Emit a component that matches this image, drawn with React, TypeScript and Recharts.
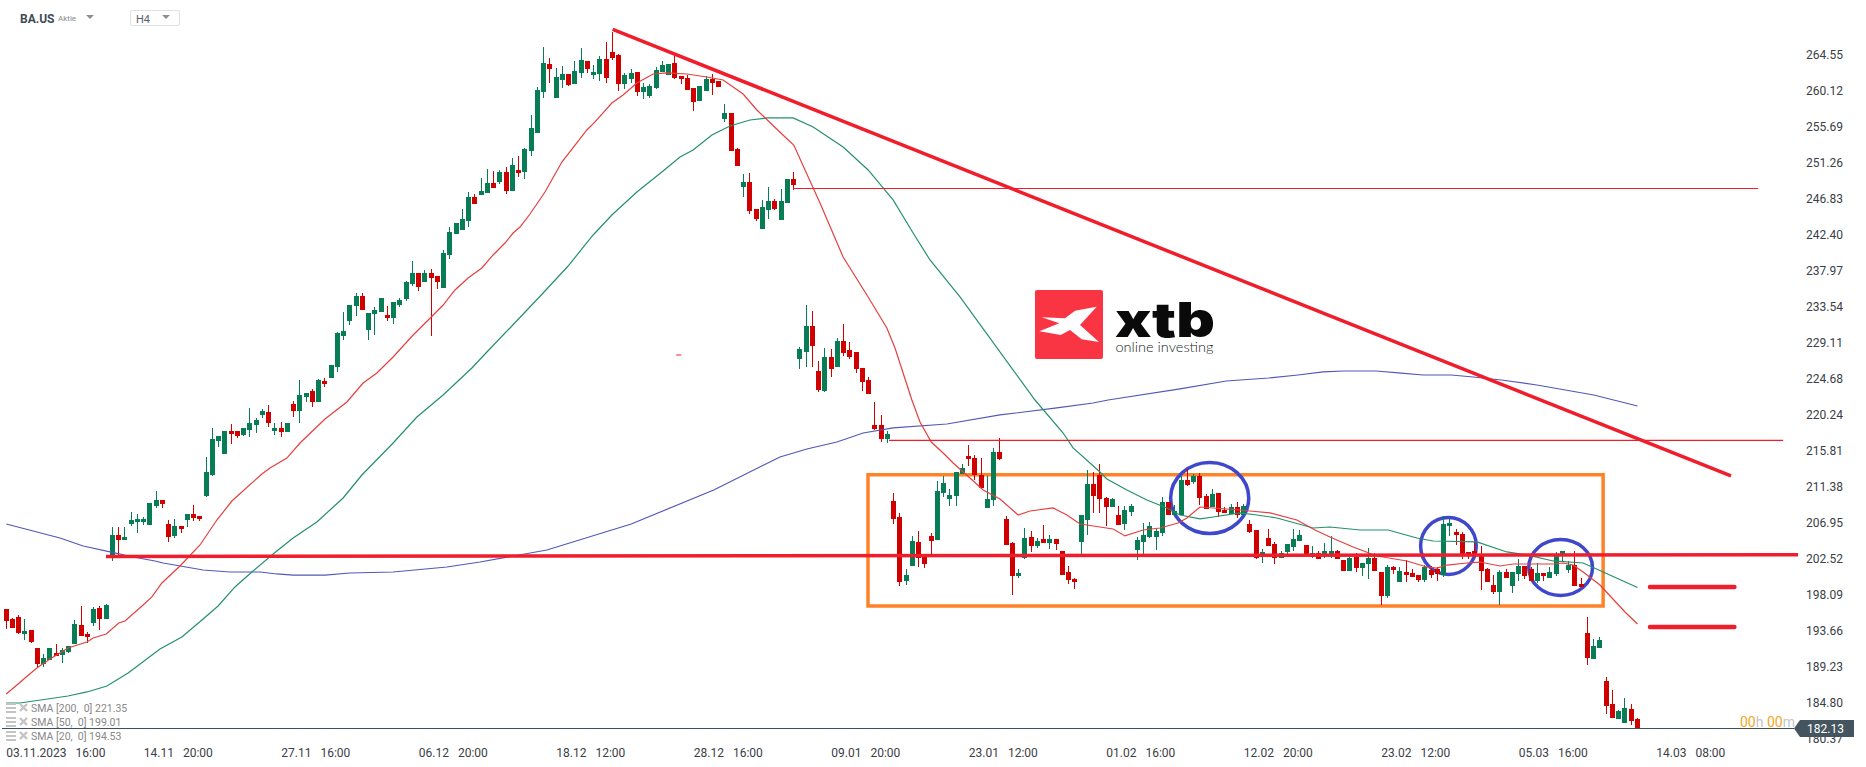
import React from "react";
import {
  Bar,
  ComposedChart,
  Line,
  ReferenceArea,
  ReferenceLine,
  XAxis,
  YAxis,
} from "recharts";

const WIDTH = 1866;
const HEIGHT = 767;
const RISING = "#067d55";
const FALLING = "#d00000";
const DRAWN_RED = "#f01d2d";
const BOX_ORANGE = "#ff8229";
const CIRCLE_BLUE = "#3f47cc";
const TEXT_DARK = "#3a4046";

const opens = [
  196.37, 195.14, 195.39, 193.29, 193.79, 191.57, 189.6, 190.09, 190.96, 190.71,
  191.08, 192.06, 194.4, 193.29, 194.65, 196.49, 195.14, 203.02, 205.48, 204.86,
  206.83, 207.08, 207.08, 206.71, 209.05, 209.79, 206.83, 205.36, 206.58, 207.32,
  208.06, 207.82, 210.28, 212.86, 217.05, 215.45, 218.28, 218.28, 217.78, 218.4,
  219.02, 220.25, 220.62, 218.28, 218.65, 218.15, 221.6, 220.74, 222.46, 223.2,
  221.85, 224.43, 224.8, 226.15, 229.97, 231.81, 233.66, 234.89, 230.71, 232.68,
  232.92, 232.55, 232.18, 233.78, 234.52, 236.37, 237.72, 236.61, 237.72, 237.35,
  235.88, 239.94, 242.52, 243.01, 244.12, 247.08, 247.32, 247.57, 248.8, 248.92,
  250.15, 247.81, 250.4, 250.15, 252.74, 254.95, 259.99, 263.44, 259.26, 261.47,
  262.21, 260.98, 262.34, 263.81, 262.09, 262.21, 264.06, 264.92, 264.55, 260.98,
  261.6, 262.46, 259.99, 259.51, 260.49, 262.46, 262.09, 263.57, 261.97, 261.72,
  260.49, 258.89, 260.12, 261.6, 261.35, 256.68, 257.41, 252.98, 248.31, 248.92,
  245.6, 243.14, 245.47, 246.58, 244.24, 246.34, 249.29, 227.14, 228.0, 231.2,
  225.66, 223.2, 227.38, 226.15, 229.35, 228.24, 228.0, 226.03, 224.55, 219.02,
  219.02, 217.29, 209.66, 207.69, 199.82, 201.66, 204.62, 203.14, 205.36, 204.86,
  210.65, 209.91, 210.28, 212.98, 215.2, 214.95, 212.86, 208.8, 209.79, 215.69,
  207.45, 204.49, 200.43, 202.65, 205.23, 204.12, 204.99, 204.49, 204.99, 203.51,
  200.92, 200.06, 204.62, 207.32, 211.75, 212.86, 210.03, 208.92, 207.94, 206.83,
  208.31, 203.63, 204.62, 205.23, 205.23, 205.72, 209.54, 207.94, 207.94, 212.25,
  212.0, 212.74, 210.28, 208.92, 210.65, 208.55, 208.06, 208.92, 207.94, 206.83,
  206.09, 203.02, 205.11, 204.37, 202.65, 203.39, 204.0, 204.74, 204.25, 203.02,
  203.26, 203.02, 203.02, 203.51, 202.4, 201.05, 202.77, 201.42, 201.91, 202.65,
  200.92, 197.97, 201.54, 199.69, 200.92, 200.8, 200.55, 199.94, 201.17, 201.29,
  200.55, 206.58, 205.85, 205.6, 203.39, 203.51, 203.02, 201.29, 199.32, 198.46,
  200.92, 199.2, 200.68, 201.66, 201.29, 199.82, 200.8, 200.19, 200.68, 202.89,
  201.17, 201.78, 199.45, 193.42, 190.22, 191.57, 187.51, 184.68, 182.83, 182.34,
  184.06, 182.83,
];

const highs = [
  196.37, 195.27, 195.63, 195.14, 193.79, 191.57, 190.83, 191.57, 192.06, 191.57,
  191.82, 195.02, 196.74, 193.54, 196.62, 196.74, 196.98, 206.46, 206.46, 206.46,
  208.31, 208.06, 207.69, 209.42, 210.89, 209.79, 207.32, 207.45, 206.58, 208.06,
  209.17, 207.82, 215.08, 218.65, 217.66, 218.28, 219.14, 218.28, 218.65, 221.11,
  219.88, 220.98, 221.48, 219.26, 219.39, 219.26, 221.97, 224.55, 222.95, 223.45,
  224.68, 224.8, 226.4, 230.46, 232.92, 233.78, 235.26, 235.26, 232.8, 233.54,
  234.64, 233.66, 234.15, 234.64, 236.74, 239.2, 237.72, 238.09, 238.21, 237.35,
  240.55, 243.38, 243.88, 245.6, 247.69, 247.44, 249.41, 250.52, 250.28, 250.4,
  250.77, 251.87, 252.12, 253.11, 257.17, 260.61, 265.54, 264.18, 262.95, 263.2,
  262.21, 263.81, 265.41, 263.81, 263.32, 264.43, 266.15, 267.38, 264.67, 262.34,
  262.83, 262.46, 261.11, 260.98, 263.07, 263.81, 263.44, 264.67, 261.97, 262.09,
  260.49, 260.74, 261.97, 262.21, 261.35, 258.52, 257.41, 253.11, 249.91, 250.03,
  245.6, 246.71, 248.31, 246.83, 248.06, 249.29, 250.15, 228.61, 233.78, 233.05,
  226.89, 228.49, 228.37, 229.72, 231.45, 229.23, 228.0, 226.03, 224.92, 221.85,
  220.25, 218.28, 210.65, 208.19, 201.29, 205.36, 205.97, 203.14, 205.72, 212.12,
  212.74, 211.14, 213.23, 214.22, 216.55, 215.32, 214.95, 212.74, 216.19, 217.42,
  207.82, 204.62, 201.29, 206.34, 205.97, 205.11, 206.71, 205.48, 204.99, 203.51,
  201.66, 200.19, 207.94, 213.48, 213.23, 214.22, 210.15, 210.03, 209.05, 209.05,
  209.29, 205.23, 206.95, 207.08, 206.22, 210.15, 209.54, 209.17, 212.74, 213.6,
  212.98, 213.11, 210.52, 211.14, 210.65, 208.92, 209.29, 209.54, 209.29, 207.32,
  206.09, 203.76, 206.22, 204.62, 203.51, 204.37, 206.22, 206.09, 204.25, 204.12,
  203.51, 204.49, 205.36, 203.63, 202.4, 203.14, 203.26, 202.03, 203.88, 203.26,
  200.92, 201.78, 201.66, 201.54, 202.4, 201.29, 200.55, 201.78, 201.66, 201.54,
  207.82, 207.57, 206.22, 205.85, 203.39, 204.74, 204.12, 201.41, 200.55, 201.17,
  201.29, 200.92, 202.52, 201.66, 201.54, 202.03, 200.8, 201.54, 203.39, 203.51,
  202.28, 203.51, 200.19, 195.39, 192.68, 192.92, 188.0, 186.4, 183.94, 185.42,
  184.68, 182.96,
];

const lows = [
  193.91, 194.03, 193.29, 192.56, 192.19, 189.23, 189.23, 190.09, 190.59, 189.72,
  190.95, 192.06, 193.05, 192.19, 194.28, 193.79, 195.14, 202.28, 203.02, 204.86,
  206.58, 205.72, 206.71, 206.71, 208.8, 208.8, 204.62, 205.11, 205.72, 206.46,
  207.2, 207.2, 210.15, 212.74, 216.31, 215.45, 216.68, 217.42, 217.66, 217.54,
  218.03, 219.88, 218.77, 217.78, 217.54, 218.15, 220.0, 219.26, 221.85, 221.23,
  221.85, 223.69, 224.8, 225.54, 229.48, 231.32, 232.43, 233.17, 229.48, 230.09,
  232.92, 231.81, 231.45, 233.54, 234.28, 236.12, 235.51, 236.61, 229.97, 235.75,
  235.88, 239.44, 242.52, 243.01, 243.38, 246.21, 247.32, 247.57, 248.18, 248.68,
  247.44, 247.81, 249.54, 249.29, 252.12, 254.95, 259.26, 261.11, 259.26, 260.49,
  260.74, 260.98, 261.72, 262.34, 261.6, 261.35, 261.11, 263.94, 260.12, 260.37,
  261.11, 259.51, 259.14, 259.26, 260.37, 262.46, 262.09, 261.6, 260.98, 260.24,
  257.66, 258.89, 260.12, 259.63, 260.61, 256.31, 252.74, 250.89, 247.08, 244.98,
  244.12, 243.14, 244.37, 245.47, 244.24, 246.34, 247.94, 225.91, 226.15, 226.15,
  223.08, 223.08, 224.92, 226.15, 227.51, 227.14, 225.41, 223.2, 222.83, 218.4,
  216.92, 216.8, 206.83, 199.2, 199.32, 201.66, 201.54, 201.41, 203.02, 204.86,
  210.15, 209.05, 209.05, 212.98, 213.97, 212.25, 211.26, 208.8, 209.05, 214.71,
  204.25, 198.09, 200.19, 202.52, 203.39, 203.88, 204.49, 203.76, 203.63, 200.55,
  199.45, 198.83, 203.14, 205.48, 208.19, 208.19, 206.58, 208.92, 206.71, 206.09,
  207.82, 202.4, 203.14, 205.11, 203.63, 205.36, 207.94, 207.94, 207.94, 211.51,
  211.75, 209.17, 208.68, 208.92, 207.69, 208.19, 208.06, 207.57, 207.94, 205.72,
  202.52, 202.03, 204.12, 201.91, 202.65, 203.14, 203.51, 204.74, 203.14, 202.65,
  202.52, 202.65, 202.65, 202.52, 201.05, 201.05, 200.92, 200.43, 200.06, 201.05,
  196.86, 197.72, 200.68, 199.69, 199.69, 200.31, 199.69, 199.69, 200.19, 199.82,
  200.31, 205.36, 204.25, 202.52, 202.52, 203.02, 198.71, 199.69, 198.22, 196.86,
  200.19, 198.34, 199.82, 200.06, 199.82, 199.57, 199.82, 200.19, 200.43, 202.15,
  200.8, 199.2, 199.08, 189.48, 190.22, 191.57, 183.45, 182.96, 182.83, 182.34,
  182.1, 181.73,
];

const closes = [
  194.89, 194.03, 193.42, 193.66, 192.31, 189.6, 190.34, 191.57, 190.59, 191.32,
  191.82, 194.52, 193.05, 192.92, 196.37, 195.14, 196.86, 205.48, 204.86, 205.23,
  207.32, 207.45, 207.45, 209.42, 209.79, 209.29, 205.23, 206.58, 206.22, 208.06,
  207.57, 207.45, 213.23, 217.29, 217.66, 218.28, 217.91, 217.66, 218.65, 219.26,
  219.63, 220.74, 219.26, 218.65, 218.15, 219.26, 220.74, 222.71, 222.95, 221.85,
  224.55, 224.06, 226.4, 230.34, 230.58, 233.78, 234.89, 233.17, 232.8, 233.17,
  234.64, 232.18, 234.15, 234.4, 236.61, 237.72, 236.0, 237.72, 237.11, 236.61,
  240.18, 242.77, 243.88, 244.37, 247.08, 246.21, 247.81, 248.8, 248.18, 250.15,
  247.81, 251.01, 250.03, 252.98, 255.57, 260.24, 263.57, 262.83, 261.84, 262.21,
  260.86, 262.58, 263.94, 262.83, 262.46, 264.06, 261.72, 264.18, 260.98, 262.09,
  262.34, 259.99, 260.61, 260.74, 262.71, 263.32, 263.44, 261.72, 261.6, 260.24,
  258.77, 260.74, 261.6, 261.11, 260.61, 257.41, 252.74, 250.89, 248.92, 245.35,
  244.37, 245.84, 246.58, 245.6, 246.58, 249.29, 248.55, 228.37, 231.2, 228.74,
  223.32, 227.38, 225.91, 229.35, 227.88, 227.38, 225.91, 224.31, 222.83, 218.52,
  217.29, 217.91, 207.45, 199.69, 200.55, 204.74, 202.65, 201.91, 204.74, 210.89,
  211.88, 210.4, 213.23, 213.72, 214.83, 212.86, 211.26, 209.91, 215.69, 214.83,
  204.25, 200.43, 200.8, 205.11, 204.12, 204.74, 204.49, 204.99, 204.37, 200.55,
  199.94, 199.69, 207.94, 211.75, 210.28, 209.91, 208.92, 209.91, 206.71, 208.56,
  209.05, 204.86, 205.48, 206.58, 205.97, 209.54, 207.94, 208.43, 212.25, 211.63,
  212.74, 210.03, 208.68, 210.52, 208.31, 208.19, 208.92, 207.94, 209.05, 205.85,
  202.65, 203.39, 204.12, 202.65, 203.26, 204.37, 204.99, 205.48, 203.14, 203.26,
  202.52, 203.51, 203.51, 202.52, 201.05, 202.65, 201.42, 202.03, 202.65, 201.05,
  197.97, 201.54, 201.17, 201.05, 200.55, 200.31, 199.94, 201.54, 200.55, 200.68,
  206.83, 206.95, 205.48, 203.14, 202.89, 203.02, 201.05, 199.69, 198.46, 200.92,
  200.19, 200.92, 201.66, 200.43, 199.82, 200.8, 200.43, 200.92, 203.02, 203.51,
  201.78, 199.2, 199.08, 190.34, 191.82, 192.56, 184.43, 182.96, 183.82, 184.18,
  182.59, 181.73,
];

const sma20 = [
  [0, 185.91], [1.9, 187.14], [3, 187.88], [4.9, 189.11], [7, 190.22], [9.9, 191.57],
  [12.9, 192.31], [13.9, 192.8], [16, 193.29], [18, 194.65], [19, 194.89], [21.9, 196.86],
  [23.3, 197.85], [24.9, 199.57], [27.8, 201.66], [31, 204.25], [33.7, 207.32], [36.1, 209.66],
  [40.9, 212.99], [42.2, 213.72], [44.9, 214.95], [47, 216.8], [51, 219.75], [54.5, 221.85],
  [57.1, 224.18], [59.3, 225.41], [61.9, 227.38], [65.1, 230.09], [68, 232.31], [69.9, 233.78],
  [71.8, 235.63], [73.9, 237.11], [76.1, 238.34], [77.9, 239.94], [79.8, 241.41], [81.1, 242.64],
  [82.2, 243.38], [83.8, 244.98], [86.2, 247.69], [88.9, 251.38], [92.9, 255.32], [94.2, 256.31],
  [96.9, 258.64], [98.7, 259.63], [100.9, 261.11], [103.5, 262.21], [105.7, 262.34], [108.9, 262.21],
  [112.1, 261.84], [114.7, 261.47], [117.9, 259.75], [120.1, 257.78], [124.1, 254.83], [126, 253.47],
  [130.2, 246.34], [133.9, 239.69], [136.9, 236.0], [137.9, 234.77], [140.9, 230.95], [142.2, 228.49],
  [144.9, 222.09], [146.2, 219.39], [148, 216.92], [149.9, 215.57], [151.5, 214.34], [154.2, 212.49],
  [156.3, 211.02], [159, 209.91], [161.9, 207.94], [163.8, 208.43], [167.5, 208.8], [169.7, 207.94],
  [171.8, 206.83], [177.1, 206.22], [179, 205.36], [181.9, 206.09], [184.6, 206.34], [187.5, 206.95],
  [188.9, 207.57], [191, 208.92], [193.1, 208.8], [197.4, 208.55], [199, 208.43], [202.2, 208.19],
  [206.5, 207.32], [209.4, 206.09], [211.8, 205.23], [215.5, 204.0], [219.3, 202.89], [224.1, 202.28],
  [227.3, 201.54], [228.9, 201.41], [230.5, 201.78], [233.7, 202.03], [235.8, 202.15], [239, 201.66],
  [241.1, 201.91], [247.5, 201.91], [249.1, 202.03], [250.7, 201.78], [252.3, 200.92], [255, 199.32],
  [259, 196.0], [261, 194.53],
];

const sma50 = [
  [0, 184.8], [2.2, 184.8], [9.9, 185.66], [12.9, 186.16], [16.1, 186.89], [19.5, 188.49],
  [24.6, 191.45], [28.1, 192.92], [31.5, 195.14], [33.9, 196.74], [36.6, 199.08], [39.3, 200.92],
  [42.7, 203.14], [45.9, 205.11], [49.7, 207.08], [53.9, 210.03], [56.9, 212.86], [61.9, 216.8],
  [65.7, 220.0], [69.9, 222.71], [74.5, 226.03], [76.9, 228.0], [80.9, 231.2], [85.9, 235.26],
  [89.9, 238.58], [93.9, 242.4], [96.9, 244.86], [100.9, 247.69], [104.9, 250.15], [107.8, 252.0],
  [109.9, 252.86], [112.9, 254.71], [115.8, 255.81], [119, 256.55], [121.7, 256.8], [125.9, 256.8],
  [129.1, 255.69], [133.9, 253.23], [137.9, 250.4], [141.9, 246.71], [145.1, 242.64], [147.8, 239.32],
  [152.6, 234.77], [164.6, 222.09], [169.1, 218.03], [170.7, 216.19], [175, 213.23], [176.1, 212.37],
  [179.3, 211.02], [182.5, 209.79], [185.7, 208.8], [187.8, 207.94], [191, 207.45], [193.1, 207.69],
  [197.4, 208.19], [200.1, 207.94], [203.3, 207.57], [209.1, 206.34], [211.8, 206.46], [216.6, 206.09],
  [221.1, 206.09], [225.7, 205.11], [228.3, 204.74], [235.3, 204.62], [240.1, 203.39], [243.3, 203.02],
  [247.5, 202.28], [252.3, 202.03], [255.5, 200.92], [261, 199.01],
];

const sma200 = [
  [0, 206.83], [4.3, 205.97], [8.6, 205.11], [12.3, 204.12], [16.6, 203.39], [20.3, 202.77],
  [23.8, 202.28], [25.1, 202.03], [31.5, 201.17], [35.8, 200.92], [40.6, 200.92], [43.3, 200.68],
  [45.9, 200.55], [51, 200.55], [55, 200.8], [61.9, 200.92], [70.5, 201.54], [75.8, 202.15],
  [86.5, 203.63], [100, 206.83], [113.2, 211.02], [123.8, 215.08], [128.1, 216.06], [132.9, 216.92],
  [137.1, 218.03], [141.9, 218.65], [150.5, 219.14], [159, 220.25], [168.1, 221.11], [173.9, 221.72],
  [176.3, 222.09], [187.8, 223.45], [195.2, 224.43], [202, 224.8], [206.7, 225.17], [210.7, 225.54],
  [214, 225.66], [219.2, 225.66], [223.2, 225.41], [226.7, 225.17], [231.2, 225.17], [234.7, 224.92],
  [239.2, 224.55], [244.9, 223.94], [254, 222.71], [261, 221.35],
];

const priceTicks = [
  264.55, 260.12, 255.69, 251.26, 246.83, 242.4, 237.97, 233.54, 229.11, 224.68,
  220.24, 215.81, 211.38, 206.95, 202.52, 198.09, 193.66, 189.23, 184.8, 180.37,
];

const dateTickBars = [0, 22, 44, 66, 88, 110, 132, 154, 176, 198, 220, 242, 264];
const dateTickDays = [
  "03.11.2023", "14.11", "27.11", "06.12", "18.12", "28.12", "09.01",
  "23.01", "01.02", "12.02", "23.02", "05.03", "14.03",
];
const dateTickTimes = [
  "16:00", "20:00", "16:00", "20:00", "12:00", "16:00", "20:00",
  "12:00", "16:00", "20:00", "12:00", "16:00", "08:00",
];

const legendRows = ["SMA [200,  0] 221.35", "SMA [50,  0] 199.01", "SMA [20,  0] 194.53"];

const candles = opens.map((open, bar) => ({
  bar,
  open,
  close: closes[bar],
  range: [lows[bar], highs[bar]],
}));

const toPoints = (rows: number[][]) => rows.map(([bar, value]) => ({ bar, value }));

const Candle = (props: any) => {
  const { x, y, width, height, payload } = props;
  const [low, high] = payload.range;
  const toY = (price: number) => y + ((high - price) * height) / (high - low);
  const cx = Math.floor(x + width / 2);
  const up = payload.close >= payload.open;
  const top = Math.round(toY(Math.max(payload.open, payload.close)));
  const bottom = Math.round(toY(Math.min(payload.open, payload.close)));
  const color = up ? RISING : FALLING;
  return (
    <g shapeRendering="crispEdges">
      <rect x={cx} y={y} width={1} height={height} fill={color} />
      <rect x={cx - 2} y={top} width={5} height={Math.max(bottom - top, 1)} fill={color} />
    </g>
  );
};

const DateTick = (props: any) => {
  const { x, y, payload } = props;
  const i = dateTickBars.indexOf(payload.value);
  return (
    <text x={x} y={y + 16} fill={TEXT_DARK} fontSize={12} fontFamily="Roboto" textAnchor="start">
      <tspan>{dateTickDays[i]}</tspan>
      <tspan dx={9}>{dateTickTimes[i]}</tspan>
    </text>
  );
};

const Ring = (props: any) => {
  const { x, y, width, height } = props;
  return (
    <ellipse
      cx={x + width / 2}
      cy={y + height / 2}
      rx={width / 2}
      ry={height / 2}
      fill="none"
      stroke={CIRCLE_BLUE}
      strokeWidth={3.5}
    />
  );
};

const segment = (x1: number, y1: number, x2: number, y2: number) => [
  { x: x1, y: y1 },
  { x: x2, y: y2 },
];

const Caret = ({ x, y }: { x: number; y: number }) => (
  <div
    style={{
      position: "absolute",
      left: x,
      top: y,
      width: 0,
      height: 0,
      borderLeft: "4px solid transparent",
      borderRight: "4px solid transparent",
      borderTop: "4px solid #8a8f93",
    }}
  />
);

const LegendIcons = () => (
  <svg width={24} height={10} style={{ position: "absolute", left: 6, top: 1 }}>
    <rect x={0} y={0} width={10} height={2} fill="#c4c4c4" />
    <rect x={0} y={4} width={10} height={2} fill="#c4c4c4" />
    <rect x={0} y={8} width={10} height={2} fill="#c4c4c4" />
    <path d="M14 1 L21 8 M21 1 L14 8" stroke="#c4c4c4" strokeWidth={2.4} />
  </svg>
);

const Logo = () => (
  <svg
    width={WIDTH}
    height={HEIGHT}
    style={{ position: "absolute", left: 0, top: 0, pointerEvents: "none" }}
  >
    <rect x={1035} y={290} width={68} height={69} rx={2} fill="#f93443" />
    <polygon
      fill="#fff"
      points="1096.7,306.7 1075,310.7 1065,318.3 1041.7,317.3 1059.3,323.3 1039.3,331.3 1060.7,335 1070,330 1081.7,339.3 1099,342 1080,325"
    />
    <text
      x={1115}
      y={337}
      fontFamily="Inter"
      fontWeight={900}
      fontSize={48}
      textLength={100}
      lengthAdjust="spacingAndGlyphs"
      fill="#0a0a0a"
    >
      xtb
    </text>
    <text
      x={1115.5}
      y={352}
      fontFamily="Lato"
      fontWeight={300}
      fontSize={14}
      textLength={98}
      lengthAdjust="spacingAndGlyphs"
      fill="#222"
    >
      online investing
    </text>
  </svg>
);

export default function App() {
  return (
    <div
      style={{
        position: "absolute",
        left: 0,
        top: 0,
        width: WIDTH,
        height: HEIGHT,
        background: "#fff",
        overflow: "hidden",
        fontFamily: "Roboto",
      }}
    >
      <ComposedChart
        width={WIDTH}
        height={HEIGHT}
        data={candles}
        margin={{ top: 19, right: 0, bottom: 0, left: 0 }}
      >
        <XAxis
          dataKey="bar"
          type="number"
          domain={[-1, 287]}
          ticks={dateTickBars}
          interval={0}
          height={28}
          axisLine={false}
          tickLine={false}
          tickSize={0}
          tick={<DateTick />}
        />
        <YAxis
          orientation="right"
          type="number"
          domain={[180.37, 268.98]}
          ticks={priceTicks}
          interval={0}
          width={66}
          axisLine={false}
          tickLine={false}
          tickSize={0}
          tickMargin={6}
          tickFormatter={(v: number) => v.toFixed(2)}
          tick={{ fill: TEXT_DARK, fontSize: 12, fontFamily: "Roboto" }}
        />
        <Bar dataKey="range" barSize={5} shape={<Candle />} isAnimationActive={false} />
        <Line
          data={toPoints(sma200)}
          dataKey="value"
          stroke="#5159b8"
          strokeWidth={1.2}
          dot={false}
          isAnimationActive={false}
        />
        <Line
          data={toPoints(sma50)}
          dataKey="value"
          stroke="#25906c"
          strokeWidth={1.2}
          dot={false}
          isAnimationActive={false}
        />
        <Line
          data={toPoints(sma20)}
          dataKey="value"
          stroke="#e4403f"
          strokeWidth={1.2}
          dot={false}
          isAnimationActive={false}
        />
        <ReferenceLine segment={segment(-0.68, 181.66, 286.04, 181.66)} stroke="#3e4f59" strokeWidth={1} />
        <ReferenceLine segment={segment(97.03, 267.71, 275.96, 212.74)} stroke={DRAWN_RED} strokeWidth={3.5} />
        <ReferenceLine segment={segment(15.96, 202.83, 286.7, 203.05)} stroke={DRAWN_RED} strokeWidth={3.5} />
        <ReferenceLine segment={segment(125.88, 248.12, 280.3, 248.12)} stroke={DRAWN_RED} strokeWidth={1.2} />
        <ReferenceLine segment={segment(141.24, 217.11, 284.3, 217.11)} stroke={DRAWN_RED} strokeWidth={1.2} />
        <ReferenceLine segment={segment(107.2, 227.63, 108, 227.63)} stroke={DRAWN_RED} strokeWidth={1} />
        <ReferenceLine
          segment={segment(263, 199.08, 276.5, 199.08)}
          stroke={DRAWN_RED}
          strokeWidth={4.5}
          strokeLinecap="round"
        />
        <ReferenceLine
          segment={segment(263, 194.16, 276.5, 194.16)}
          stroke={DRAWN_RED}
          strokeWidth={4.5}
          strokeLinecap="round"
        />
        <ReferenceArea
          x1={137.88}
          x2={255.5}
          y1={196.74}
          y2={212.9}
          fill="none"
          fillOpacity={0}
          stroke={BOX_ORANGE}
          strokeWidth={3.5}
          ifOverflow="visible"
        />
        <ReferenceArea x1={186.3} x2={198.8} y1={205.66} y2={214.4} shape={<Ring />} ifOverflow="visible" />
        <ReferenceArea x1={226.3} x2={235.2} y1={200.62} y2={207.63} shape={<Ring />} ifOverflow="visible" />
        <ReferenceArea x1={243.6} x2={253.8} y1={198.03} y2={204.92} shape={<Ring />} ifOverflow="visible" />
      </ComposedChart>

      <Logo />

      <div style={{ position: "absolute", left: 20, top: 12, fontSize: 12, fontWeight: 700, color: "#3d4c57" }}>
        BA.US
      </div>
      <div style={{ position: "absolute", left: 58, top: 14, fontSize: 8, color: "#85898c" }}>Aktie</div>
      <Caret x={86} y={15} />
      <div
        style={{
          position: "absolute",
          left: 130,
          top: 10,
          width: 43,
          height: 14,
          border: "1px solid #dfe1e3",
          borderRadius: 2,
          fontSize: 11,
          lineHeight: "17px",
          color: "#59636b",
          paddingLeft: 5,
          boxSizing: "content-box",
        }}
      >
        H4
      </div>
      <Caret x={162} y={15} />

      {legendRows.map((row, i) => (
        <div key={row} style={{ position: "absolute", left: 0, top: 702 + i * 14, height: 14, width: 140 }}>
          <LegendIcons />
          <div
            style={{
              position: "absolute",
              left: 31,
              top: 0,
              fontSize: 10.5,
              lineHeight: "14px",
              color: "#888888",
              whiteSpace: "pre",
            }}
          >
            {row}
          </div>
        </div>
      ))}

      <div style={{ position: "absolute", left: 1740, top: 714, fontSize: 14, lineHeight: "16px", whiteSpace: "pre" }}>
        <span style={{ color: "#f5a623" }}>00</span>
        <span style={{ color: "#c4c7c9" }}>h </span>
        <span style={{ color: "#f5a623" }}>00</span>
        <span style={{ color: "#c4c7c9" }}>m</span>
      </div>

      <svg width={WIDTH} height={HEIGHT} style={{ position: "absolute", left: 0, top: 0, pointerEvents: "none" }}>
        <polygon points="1794,728.5 1800,720 1854,720 1854,737 1800,737" fill="#45555f" />
        <text x={1807} y={733} fill="#fff" fontSize={12} fontFamily="Roboto">
          182.13
        </text>
      </svg>
    </div>
  );
}
